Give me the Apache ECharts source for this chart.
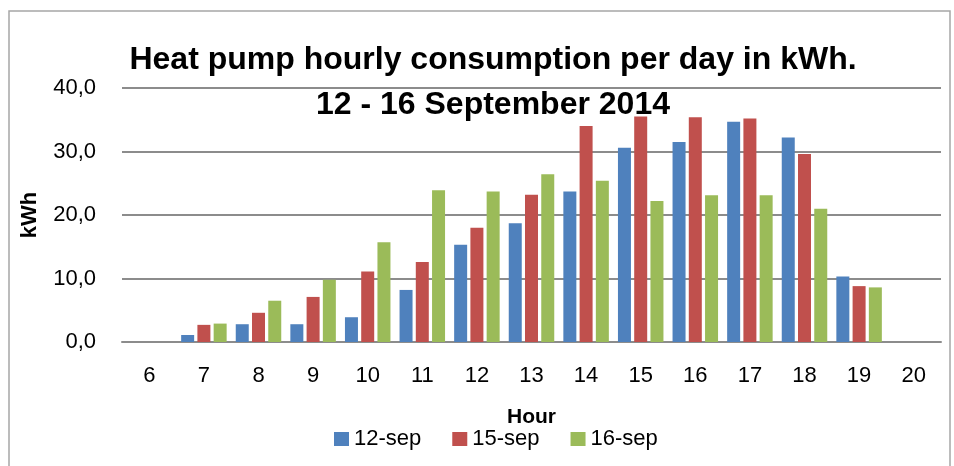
<!DOCTYPE html>
<html>
<head>
<meta charset="utf-8">
<script src="https://cdn.jsdelivr.net/npm/echarts@6/dist/echarts.min.js"></script>
<style>
  html, body { margin: 0; padding: 0; background: #fff; }
  #main { width: 954px; height: 466px; }
</style>
</head>
<body>
<div id="main"></div>
<script>
const hours = ["6", "7", "8", "9", "10", "11", "12", "13", "14", "15", "16", "17", "18", "19", "20"];
const sep12 = [null, 1.1, 2.8, 2.8, 3.9, 8.2, 15.3, 18.7, 23.7, 30.6, 31.5, 34.7, 32.2, 10.3, null];
const sep15 = [null, 2.7, 4.6, 7.1, 11.1, 12.6, 18.0, 23.2, 34.0, 35.5, 35.4, 35.2, 29.6, 8.8, null];
const sep16 = [null, 2.9, 6.5, 9.8, 15.7, 23.9, 23.7, 26.4, 25.4, 22.2, 23.1, 23.1, 21.0, 8.6, null];

const font = "'Liberation Sans', sans-serif";
const chart = echarts.init(document.getElementById("main"));

const bar = (name, data, color) => ({
  name: name,
  type: "bar",
  data: data,
  barWidth: 13,
  barGap: "25%",
  itemStyle: { color: color },
});

chart.setOption({
  animation: false,
  textStyle: { fontFamily: font },
  title: {
    text: "Heat pump hourly consumption per day in kWh.\n12 - 16 September 2014",
    left: 488,
    top: 33,
    textAlign: "center",
    textStyle: {
      fontFamily: font,
      fontWeight: "bold",
      fontSize: 32,
      lineHeight: 45,
      color: "#000",
    },
  },
  graphic: [
    {
      type: "rect",
      shape: { x: 9, y: 11, width: 941, height: 470 },
      style: { fill: "none", stroke: "#a6a6a6", lineWidth: 1.5 },
      silent: true,
    },
  ],
  grid: { left: 122, right: 13, top: 88, bottom: 124 },
  legend: {
    data: ["12-sep", "15-sep", "16-sep"],
    top: 423,
    left: 329,
    itemWidth: 15,
    itemHeight: 14,
    itemGap: 31,
    icon: "rect",
    textStyle: { fontFamily: font, fontSize: 22, color: "#000" },
  },
  xAxis: {
    type: "category",
    data: hours,
    name: "Hour",
    nameLocation: "middle",
    nameGap: 65,
    nameTextStyle: { fontFamily: font, fontWeight: "bold", fontSize: 21, color: "#000" },
    axisTick: { show: false },
    axisLine: { lineStyle: { color: "#8c8c8c", width: 2 } },
    axisLabel: { margin: 23, fontSize: 22, color: "#000", fontFamily: font },
  },
  yAxis: {
    type: "value",
    min: 0,
    max: 40,
    interval: 10,
    name: "kWh",
    nameLocation: "middle",
    nameGap: 81,
    nameRotate: 90,
    nameTextStyle: { fontFamily: font, fontWeight: "bold", fontSize: 22, color: "#000" },
    axisLine: { show: false },
    axisTick: { show: false },
    axisLabel: {
      margin: 26,
      fontSize: 22,
      color: "#000",
      fontFamily: font,
      formatter: (v) => v.toFixed(1).replace(".", ","),
    },
    splitLine: { lineStyle: { color: "#8c8c8c", width: 2 } },
  },
  series: [
    bar("12-sep", sep12, "#4f81bd"),
    bar("15-sep", sep15, "#c0504d"),
    bar("16-sep", sep16, "#9bbb59"),
  ],
});
</script>
</body>
</html>
